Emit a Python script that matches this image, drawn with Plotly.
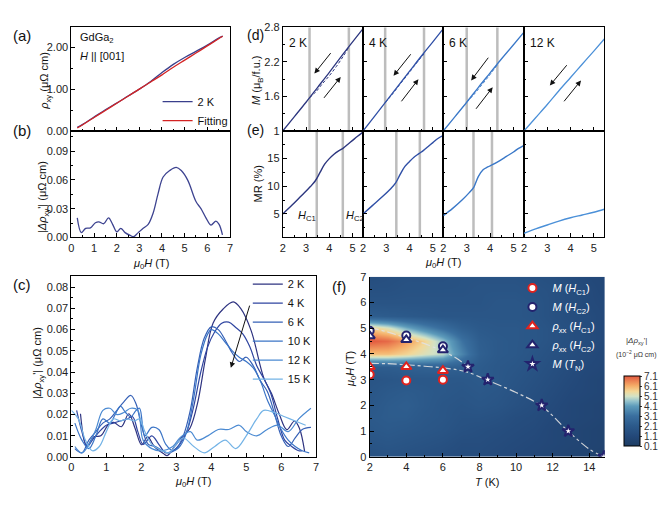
import plotly.graph_objects as go

W, HP = 672, 509
FONT = "Liberation Sans, Arial, sans-serif"

def dx(a, b):
    return [a / W, b / W]

def dy(top, bottom):
    return [1 - bottom / HP, 1 - top / HP]

# ---------------- data ----------------
# (a) Hall resistivity at 2 K and fit
H_a = [0.26, 0.5, 1.0, 1.5, 2.0, 2.5, 3.0, 3.5, 4.0, 4.5, 5.0, 5.5, 6.0, 6.5, 6.68]
rho_fit = [0.07, 0.15, 0.32, 0.49, 0.66, 0.83, 1.00, 1.17, 1.34, 1.52, 1.69, 1.86, 2.03, 2.20, 2.26]
rho_2K = [0.085, 0.157, 0.33, 0.505, 0.665, 0.835, 1.0, 1.182, 1.395, 1.59, 1.755, 1.90, 2.048, 2.215, 2.262]

# (b) |Δρxy'| at 2 K
H_b = [0.26, 0.44, 0.63, 0.84, 1.06, 1.21, 1.43, 1.64, 1.82, 2.01, 2.18, 2.37, 2.63, 2.74, 2.95,
       3.17, 3.39, 3.61, 3.83, 4.05, 4.34, 4.63, 4.85, 5.14, 5.50, 5.72, 5.94, 6.16, 6.38, 6.52, 6.67]
d_2K = [0.0204, 0.005, 0.0095, 0.010, 0.0153, 0.0163, 0.0143, 0.0204, 0.0136, 0.0058, 0.0095, 0.005,
        0.0017, 0.0007, 0.005, 0.0095, 0.0136, 0.0255, 0.046, 0.063, 0.0697, 0.073, 0.0697, 0.0595,
        0.0374, 0.030, 0.0204, 0.0129, 0.017, 0.0136, 0.0027]

# (c) |Δρxy'| at several temperatures
H_c4 = [0.15, 0.3, 0.45, 0.6, 0.8, 1.0, 1.2, 1.4, 1.6, 1.75, 1.9, 2.05, 2.3, 2.5, 2.7, 2.9, 3.1, 3.3,
        3.5, 3.7, 3.9, 4.1, 4.3, 4.5, 4.7, 4.9, 5.1, 5.3, 5.5, 5.7, 5.9, 6.1, 6.3, 6.5, 6.6]
d_4K = [0.022, 0.012, 0.005, 0.008, 0.012, 0.015, 0.016, 0.017, 0.018, 0.019, 0.012, 0.006, 0.010,
        0.006, 0.002, 0.003, 0.006, 0.012, 0.024, 0.040, 0.052, 0.059, 0.063, 0.0635, 0.061, 0.058,
        0.052, 0.043, 0.037, 0.030, 0.018, 0.008, 0.005, 0.003, 0.003]
H_c6 = [0.1, 0.3, 0.5, 0.7, 0.9, 1.1, 1.3, 1.5, 1.7, 1.85, 2.0, 2.2, 2.4, 2.6, 2.8, 3.0, 3.2, 3.4,
        3.6, 3.8, 4.0, 4.2, 4.4, 4.6, 4.8, 5.0, 5.2, 5.4, 5.6, 5.8, 6.0, 6.2, 6.4, 6.6, 6.85]
d_6K = [0.004, 0.002, 0.008, 0.012, 0.016, 0.018, 0.022, 0.026, 0.029, 0.025, 0.015, 0.006, 0.005,
        0.003, 0.002, 0.004, 0.010, 0.022, 0.042, 0.056, 0.0613, 0.060, 0.055, 0.049, 0.045, 0.047,
        0.043, 0.036, 0.031, 0.021, 0.010, 0.005, 0.009, 0.013, 0.014]
H_c10 = [0.1, 0.3, 0.5, 0.7, 0.9, 1.1, 1.25, 1.4, 1.55, 1.7, 1.85, 1.95, 2.1, 2.3, 2.5, 2.7, 2.9,
         3.1, 3.3, 3.5, 3.7, 3.9, 4.0, 4.2, 4.4, 4.6, 4.8, 5.0, 5.2, 5.4, 5.6, 5.8, 6.0, 6.2, 6.4, 6.6, 6.8]
d_10K = [0.016, 0.008, 0.004, 0.010, 0.018, 0.016, 0.020, 0.024, 0.021, 0.019, 0.022, 0.023, 0.010,
         0.014, 0.013, 0.006, 0.003, 0.005, 0.012, 0.028, 0.048, 0.058, 0.060, 0.058, 0.054, 0.050,
         0.047, 0.045, 0.042, 0.036, 0.027, 0.020, 0.013, 0.008, 0.005, 0.003, 0.002]
H_c12 = [0.1, 0.3, 0.5, 0.7, 0.9, 1.1, 1.3, 1.5, 1.7, 1.9, 2.05, 2.3, 2.6, 2.9, 3.1, 3.4, 3.6, 3.9,
         4.2, 4.5, 4.8, 5.0, 5.3, 5.6, 5.9, 6.2, 6.5, 6.85]
d_12K = [0.005, 0.002, 0.006, 0.013, 0.022, 0.023, 0.020, 0.021, 0.023, 0.022, 0.008, 0.004, 0.003,
         0.005, 0.009, 0.012, 0.008, 0.010, 0.013, 0.013, 0.015, 0.012, 0.010, 0.013, 0.015, 0.012,
         0.018, 0.023]
H_c15 = [0.0, 0.2, 0.4, 0.6, 0.8, 1.0, 1.2, 1.4, 1.6, 1.8, 1.95, 2.1, 2.3, 2.6, 2.8, 3.0, 3.2, 3.5,
         3.8, 4.1, 4.4, 4.7, 5.0, 5.3, 5.5, 5.8, 6.1, 6.4, 6.7]
d_15K = [0.022, 0.018, 0.008, 0.003, 0.005, 0.012, 0.018, 0.017, 0.018, 0.017, 0.018, 0.012, 0.006,
         0.003, 0.002, 0.006, 0.009, 0.005, 0.002, 0.005, 0.008, 0.004, 0.010, 0.018, 0.022, 0.021,
         0.019, 0.017, 0.015]
c_labels = ["2 K", "4 K", "6 K", "10 K", "12 K", "15 K"]
c_colors = ["#2e3380", "#2f45a0", "#3560b6", "#3b74c6", "#4b8ad2", "#73b3e6"]

# (d) magnetization, (e) MR
sub_T = ["2 K", "4 K", "6 K", "12 K"]
sub_colors = ["#2c367f", "#2f4fa6", "#3a78c8", "#4b90d8"]
H_d = [2.0, 2.5, 3.0, 3.5, 4.0, 4.5, 5.0, 5.45]
M_down = [
    [1.0, 1.25, 1.50, 1.76, 2.02, 2.29, 2.55, 2.78],
    [1.0, 1.26, 1.52, 1.78, 2.04, 2.30, 2.55, 2.78],
    [1.0, 1.25, 1.50, 1.76, 2.01, 2.26, 2.50, 2.72],
    [1.0, 1.23, 1.46, 1.70, 1.93, 2.16, 2.39, 2.60],
]
H_up = [
    [3.15, 3.4, 3.7, 4.0, 4.3, 4.6, 4.84],
    [2.95, 3.3, 3.6, 3.9, 4.2, 4.62],
    [3.0, 3.3, 3.6, 3.9, 4.31],
    [],
]
M_up = [
    [1.58, 1.67, 1.82, 1.96, 2.12, 2.30, 2.455],
    [1.49, 1.66, 1.82, 1.97, 2.13, 2.34],
    [1.50, 1.63, 1.78, 1.93, 2.15],
    [],
]
Hc_M = [[3.15, 4.84], [2.95, 4.62], [3.0, 4.31], []]
H_e = [
    [2.0, 2.4, 2.8, 3.2, 3.4, 3.6, 3.8, 4.0, 4.2, 4.4, 4.6, 4.8, 5.0, 5.2, 5.45],
    [2.0, 2.4, 2.8, 3.2, 3.4, 3.6, 3.8, 4.0, 4.2, 4.4, 4.6, 4.8, 5.0, 5.2, 5.45],
    [2.0, 2.4, 2.8, 3.1, 3.3, 3.5, 3.7, 3.9, 4.1, 4.4, 4.7, 5.0, 5.2, 5.45],
    [2.0, 2.5, 3.0, 3.5, 4.0, 4.5, 5.0, 5.45],
]
MR = [
    [5.0, 6.6, 8.3, 10.0, 11.0, 12.5, 14.0, 15.0, 15.8, 16.4, 16.9, 17.6, 18.3, 19.0, 19.8],
    [5.0, 6.5, 8.0, 9.6, 10.6, 12.2, 13.6, 14.5, 15.3, 15.9, 16.5, 17.2, 17.9, 18.6, 19.2],
    [4.7, 6.0, 7.5, 8.8, 9.8, 11.8, 13.0, 13.5, 13.9, 14.6, 15.4, 16.2, 16.8, 17.4],
    [1.5, 2.3, 3.0, 3.7, 4.3, 4.8, 5.3, 5.85],
]
Hc_MR = [[3.46, 4.58], [3.43, 4.44], [3.29, 4.08], []]
# arrows in (d): (tail H, tail M, head H, head M)
arrows_d = [
    [(4.11, 2.38, 3.36, 2.00), (3.72, 1.55, 4.49, 1.94)],
    [(4.10, 2.36, 3.31, 1.96), (3.60, 1.49, 4.38, 1.90)],
    [(3.97, 2.30, 3.19, 1.88), (3.35, 1.36, 4.11, 1.76)],
    [(3.89, 2.17, 3.11, 1.79), (3.67, 1.49, 4.45, 1.88)],
]

# (f) phase diagram
T_hc = [2, 4, 6]
M_HC1 = [3.2, 2.97, 3.0]
M_HC2 = [4.9, 4.72, 4.3]
rho_HC1 = [3.5, 3.5, 3.35]
rho_HC2 = [4.7, 4.55, 4.15]
T_N = [7.37, 8.45, 11.4, 12.85, 14.8]
H_N = [3.5, 3.0, 2.0, 1.0, 0.0]
up_T = [2, 3, 4, 5, 6, 6.7, 7.37]
up_H = [5.03, 4.85, 4.62, 4.4, 4.1, 3.85, 3.5]
lo_T = [2, 3, 4, 5, 6, 6.8, 7.4, 8.45, 10, 11.4, 12.85, 14, 14.8]
lo_H = [3.63, 3.62, 3.58, 3.52, 3.46, 3.38, 3.28, 2.97, 2.5, 1.97, 0.99, 0.3, 0.0]
map_T = [2, 3, 4, 5, 6, 7, 8, 9, 10, 11, 12, 13, 14, 15]
map_H = [0, 0.5, 1, 1.5, 2, 2.5, 3, 3.5, 4, 4.5, 5, 5.5, 6, 6.5, 7]
map_Z = [
    [1.6, 1.7, 1.6, 1.5, 1.4, 1.3, 1.3, 1.2, 1.1, 1.0, 0.9, 0.8, 0.7, 0.6],
    [1.8, 1.9, 1.8, 1.7, 1.6, 1.4, 1.4, 1.3, 1.2, 1.1, 1.0, 0.9, 0.8, 0.7],
    [2.0, 2.1, 2.0, 1.9, 1.8, 1.6, 1.5, 1.4, 1.3, 1.2, 1.0, 0.9, 0.8, 0.7],
    [2.1, 2.2, 2.2, 2.0, 1.9, 1.7, 1.7, 1.6, 1.4, 1.3, 1.1, 1.0, 0.9, 0.8],
    [2.0, 2.2, 2.3, 2.1, 1.9, 1.8, 1.9, 1.8, 1.6, 1.4, 1.2, 1.0, 0.9, 0.8],
    [1.9, 2.1, 2.2, 2.1, 2.0, 1.9, 2.0, 1.9, 1.7, 1.5, 1.3, 1.1, 1.0, 0.9],
    [1.8, 1.9, 2.0, 2.0, 2.0, 2.0, 2.1, 2.0, 1.8, 1.6, 1.4, 1.2, 1.0, 0.9],
    [2.3, 2.3, 2.4, 2.5, 2.5, 2.4, 2.2, 2.0, 1.9, 1.7, 1.5, 1.3, 1.1, 1.0],
    [5.9, 5.9, 5.6, 5.2, 4.9, 3.6, 2.4, 2.1, 2.0, 1.8, 1.6, 1.4, 1.2, 1.0],
    [7.1, 6.9, 6.3, 5.6, 4.6, 3.2, 2.3, 2.1, 2.0, 1.9, 1.7, 1.5, 1.3, 1.1],
    [5.7, 5.2, 4.3, 3.6, 3.0, 2.4, 2.1, 2.0, 2.0, 1.9, 1.7, 1.5, 1.3, 1.1],
    [2.3, 2.2, 2.1, 2.0, 1.9, 1.9, 1.9, 1.9, 1.9, 1.8, 1.6, 1.4, 1.3, 1.1],
    [1.8, 1.8, 1.8, 1.8, 1.8, 1.8, 1.8, 1.9, 1.9, 1.8, 1.6, 1.4, 1.2, 1.1],
    [1.6, 1.6, 1.7, 1.7, 1.7, 1.7, 1.8, 1.8, 1.8, 1.7, 1.6, 1.4, 1.2, 1.0],
    [1.4, 1.5, 1.6, 1.6, 1.6, 1.7, 1.7, 1.7, 1.7, 1.6, 1.5, 1.3, 1.1, 1.0],
]
cbar_ticks = [0.1, 1.1, 2.1, 3.1, 4.1, 5.1, 6.1, 7.1]

# ---------------- figure ----------------
fig = go.Figure()
layout = {}

def axis(dom, rng, anchor, tickvals=None, ticktext=None, minorvals=None, labels=True,
         mirror=True, fmt=None):
    d = dict(domain=dom, range=rng, anchor=anchor, showline=True, linecolor="black",
             linewidth=1, mirror=mirror, ticks="inside", ticklen=4, tickwidth=1,
             tickcolor="black", showgrid=False, zeroline=False, showticklabels=labels,
             tickfont=dict(family=FONT, size=11, color="#222"), fixedrange=True)
    if tickvals is not None:
        d["tickmode"] = "array"
        d["tickvals"] = tickvals
        if ticktext is not None:
            d["ticktext"] = ticktext
    if minorvals is not None:
        d["minor"] = dict(ticks="inside", ticklen=2, tickcolor="black",
                          tickmode="array", tickvals=minorvals, showgrid=False)
    if fmt:
        d["tickformat"] = fmt
    return d

int7 = list(range(0, 8))
half7 = [i + 0.5 for i in range(7)]

# (a)
layout["xaxis"] = axis(dx(69, 229), [0, 7], "y", int7, labels=False, minorvals=half7)
layout["yaxis"] = axis(dy(22, 128), [0, 2.47], "x", [0, 1, 2], ["0.00", "1.00", "2.00"],
                       minorvals=[0.5, 1.5])
fig.add_trace(go.Scatter(x=H_a, y=rho_2K, mode="lines", name="2 K", xaxis="x", yaxis="y",
                         line=dict(color="#3a3f8c", width=1.3, shape="spline"), legend="legend"))
fig.add_trace(go.Scatter(x=H_a, y=rho_fit, mode="lines", name="Fitting", xaxis="x", yaxis="y",
                         line=dict(color="#d42424", width=1.3, shape="spline"), legend="legend"))

# (b)
layout["xaxis2"] = axis(dx(69, 229), [0, 7], "y2", int7, minorvals=half7)
layout["yaxis2"] = axis(dy(128, 237), [0, 0.111], "x2", [0, 0.03, 0.06, 0.09],
                        ["0.00", "0.03", "0.06", "0.09"], minorvals=[0.015, 0.045, 0.075, 0.105])
fig.add_trace(go.Scatter(x=H_b, y=d_2K, mode="lines", showlegend=False, xaxis="x2", yaxis="y2",
                         line=dict(color="#3d4390", width=1.3, shape="spline")))

# (c)
layout["xaxis3"] = axis(dx(69, 316), [0, 7], "y3", int7, minorvals=half7)
layout["yaxis3"] = axis(dy(277, 462), [0, 0.085], "x3", [i / 100 for i in range(9)],
                        ["%.2f" % (i / 100) for i in range(9)],
                        minorvals=[0.005 + i / 100 for i in range(8)])
c_H = [H_b, H_c4, H_c6, H_c10, H_c12, H_c15]
c_D = [d_2K, d_4K, d_6K, d_10K, d_12K, d_15K]
for lab, col, hh, dd in zip(c_labels, c_colors, c_H, c_D):
    fig.add_trace(go.Scatter(x=hh, y=dd, mode="lines", name=lab, xaxis="x3", yaxis="y3",
                             line=dict(color=col, width=1.2, shape="spline"), legend="legend2"))

# (d), (e)
sub_x = [(282.3, 363.3), (363.3, 444.3), (444.3, 525.7), (525.7, 606.7)]
shapes = []
annotations = []
xint = [2, 3, 4, 5]
xhalf = [2.5, 3.5, 4.5]
for i in range(4):
    nd = 4 + i
    ne = 8 + i
    layout["xaxis%d" % nd] = axis(dx(*sub_x[i]), [2, 5.45], "y%d" % nd, xint, labels=False,
                                  minorvals=xhalf)
    layout["yaxis%d" % nd] = axis(dy(22, 128), [1, 2.8], "x%d" % nd, [1, 1.6, 2.2, 2.8],
                                  ["1", "1.6", "2.2", "2.8"], minorvals=[1.3, 1.9, 2.5],
                                  labels=(i == 0))
    layout["xaxis%d" % ne] = axis(dx(*sub_x[i]), [2, 5.45], "y%d" % ne, xint, minorvals=xhalf)
    layout["yaxis%d" % ne] = axis(dy(128, 237), [0.75, 20.0], "x%d" % ne, [5, 10, 15],
                                  minorvals=[2.5, 7.5, 12.5, 17.5], labels=(i == 0))
    for hc in Hc_M[i]:
        shapes.append(dict(type="line", xref="x%d" % nd, yref="y%d domain" % nd, x0=hc, x1=hc,
                           y0=0, y1=1, line=dict(color="#bdbdbd", width=2.5), layer="below"))
    for hc in Hc_MR[i]:
        shapes.append(dict(type="line", xref="x%d" % ne, yref="y%d domain" % ne, x0=hc, x1=hc,
                           y0=0, y1=1, line=dict(color="#bdbdbd", width=2.5), layer="below"))
    col = sub_colors[i]
    fig.add_trace(go.Scatter(x=H_d, y=M_down[i], mode="lines", showlegend=False,
                             xaxis="x%d" % nd, yaxis="y%d" % nd,
                             line=dict(color=col, width=1.3, shape="spline")))
    if H_up[i]:
        fig.add_trace(go.Scatter(x=H_up[i], y=M_up[i], mode="lines", showlegend=False,
                                 xaxis="x%d" % nd, yaxis="y%d" % nd,
                                 line=dict(color=col, width=1.0, dash="3px,2px", shape="spline")))
    fig.add_trace(go.Scatter(x=H_e[i], y=MR[i], mode="lines", showlegend=False,
                             xaxis="x%d" % ne, yaxis="y%d" % ne,
                             line=dict(color=col, width=1.4, shape="spline")))
    for (th, tm, hh, hm) in arrows_d[i]:
        annotations.append(dict(xref="x%d" % nd, yref="y%d" % nd, axref="x%d" % nd,
                                ayref="y%d" % nd, x=hh, y=hm, ax=th, ay=tm, text="",
                                showarrow=True, arrowhead=2, arrowsize=1.1, arrowwidth=1,
                                arrowcolor="#111"))
    annotations.append(dict(xref="paper", yref="paper", x=(sub_x[i][0] + 4) / W, y=1 - 38 / HP,
                            xanchor="left", yanchor="middle", text=sub_T[i], showarrow=False,
                            font=dict(family=FONT, size=12, color="#111")))

# (f)
layout["xaxis12"] = axis(dx(370, 607.3), [2, 14.85], "y12", [2, 4, 6, 8, 10, 12, 14],
                         minorvals=[3, 5, 7, 9, 11, 13], mirror=False)
layout["yaxis12"] = axis(dy(277.3, 461.7), [0, 7], "x12", int7, minorvals=half7, mirror=False)
cscale = [[0.0, "#1d3c62"], [0.14, "#234879"], [0.29, "#2c5a8b"], [0.43, "#3a6f9f"],
          [0.57, "#5d9bbb"], [0.64, "#93c2cc"], [0.71, "#d3e3c6"], [0.78, "#f3d898"],
          [0.86, "#f5ad68"], [1.0, "#e2583f"]]
fig.add_trace(go.Heatmap(x=map_T, y=map_H, z=map_Z, zmin=0.1, zmax=7.1, zsmooth="best",
                         colorscale=cscale, xaxis="x12", yaxis="y12", showscale=True,
                         hoverinfo="skip",
                         colorbar=dict(x=617 / W, xanchor="left", y=1 - 415 / HP, yanchor="middle",
                                       len=90, lenmode="pixels", thickness=16,
                                       thicknessmode="pixels", tickvals=cbar_ticks,
                                       ticktext=["%.1f" % v for v in cbar_ticks],
                                       ticks="outside", ticklen=2, tickcolor="#333",
                                       outlinewidth=1, outlinecolor="black",
                                       tickfont=dict(family=FONT, size=10, color="#333"))))
fig.add_trace(go.Scatter(x=up_T, y=up_H, mode="lines", showlegend=False, xaxis="x12", yaxis="y12",
                         line=dict(color="rgba(225,225,225,0.9)", width=1.2, dash="dashdot",
                                   shape="spline")))
fig.add_trace(go.Scatter(x=lo_T, y=lo_H, mode="lines", showlegend=False, xaxis="x12", yaxis="y12",
                         line=dict(color="rgba(225,225,225,0.9)", width=1.2, dash="dashdot",
                                   shape="spline")))
RED, NAVY = "#e0231e", "#23236e"
f_series = [
    ("<i>M</i> (<i>H</i><sub>C1</sub>)", T_hc, M_HC1, "circle", RED, 8),
    ("<i>M</i> (<i>H</i><sub>C2</sub>)", T_hc, M_HC2, "circle", NAVY, 8),
    ("<i>ρ</i><sub>xx</sub> (<i>H</i><sub>C1</sub>)", T_hc, rho_HC1, "triangle-up", RED, 9),
    ("<i>ρ</i><sub>xx</sub> (<i>H</i><sub>C2</sub>)", T_hc, rho_HC2, "triangle-up", NAVY, 9),
    ("<i>M</i> (<i>T</i><sub>N</sub>)", T_N, H_N, "star", NAVY, 9),
]
for name, xs, ys, sym, col, sz in f_series:
    fig.add_trace(go.Scatter(x=xs, y=ys, mode="markers", name=name, xaxis="x12", yaxis="y12",
                             marker=dict(symbol=sym, size=sz, color="white",
                                         line=dict(color=col, width=2)), legend="legend3"))

# text annotations
def txt(x, y, s, size=11, anchor="center", angle=0, color="#111", yanchor="middle"):
    annotations.append(dict(xref="paper", yref="paper", x=x / W, y=1 - y / HP, text=s,
                            showarrow=False, xanchor=anchor, yanchor=yanchor, textangle=angle,
                            font=dict(family=FONT, size=size, color=color)))

txt(8, 30, "(a)", 15, "left")
txt(8, 127, "(b)", 15, "left")
txt(8, 285, "(c)", 15, "left")
txt(244, 30, "(d)", 14, "left")
txt(244, 127, "(e)", 14, "left")
txt(330, 287, "(f)", 15, "left")
txt(76, 33, "GdGa<sub>2</sub>", 11, "left")
txt(76, 51, "<i>H</i> || [001]", 11, "left")
txt(43, 77, "<i>ρ</i><sub>xy</sub> (μΩ cm)", 11, angle=-90)
txt(41, 196, "|<i>Δρ</i><sub>xy</sub>'| (μΩ cm)", 11, angle=-90)
txt(36, 366, "|<i>Δρ</i><sub>xy</sub>'| (μΩ cm)", 11, angle=-90)
txt(257, 76, "<i>M</i> (μ<sub>B</sub>/f.u.)", 11, angle=-90)
txt(257, 182, "MR (%)", 11, angle=-90)
txt(351, 372, "<i>μ</i><sub>0</sub><i>H</i> (T)", 11, angle=-90)
txt(149, 264, "<i>μ</i><sub>0</sub><i>H</i> (T)", 11)
txt(444, 263, "<i>μ</i><sub>0</sub><i>H</i> (T)", 11)
txt(192, 488, "<i>μ</i><sub>0</sub><i>H</i> (T)", 11)
txt(488, 488, "<i>T</i> (K)", 11)
txt(296, 215, "<i>H</i><sub>C1</sub>", 11, "left")
txt(344, 215, "<i>H</i><sub>C2</sub>", 11, "left")
txt(639, 343, "|<i>Δρ</i><sub>xy</sub>'|", 8, color="#333")
txt(639, 357, "(10<sup>−2</sup> μΩ cm)", 7, color="#333")

# arrow in (c)
annotations.append(dict(xref="x3", yref="y3", axref="x3", ayref="y3", x=4.56, y=0.042,
                        ax=5.11, ay=0.072, text="", showarrow=True, arrowhead=2, arrowsize=1.1,
                        arrowwidth=1, arrowcolor="#111"))

legend_common = dict(bgcolor="rgba(0,0,0,0)", borderwidth=0, xanchor="left", yanchor="top",
                     tracegroupgap=0, itemclick=False, itemdoubleclick=False)
layout["legend"] = dict(legend_common, x=156 / W, y=1 - 83 / HP,
                        font=dict(family=FONT, size=11, color="#111"))
layout["legend2"] = dict(legend_common, x=247 / W, y=1 - 270 / HP,
                         font=dict(family=FONT, size=11, color="#111"))
layout["legend3"] = dict(legend_common, x=514 / W, y=1 - 274 / HP,
                         font=dict(family=FONT, size=11, color="white"))

fig.update_layout(width=W, height=HP, margin=dict(l=0, r=0, t=0, b=0), paper_bgcolor="white",
                  plot_bgcolor="white", font=dict(family=FONT, size=11, color="#111"),
                  shapes=shapes, annotations=annotations, **layout)
fig.write_html("out.html")
